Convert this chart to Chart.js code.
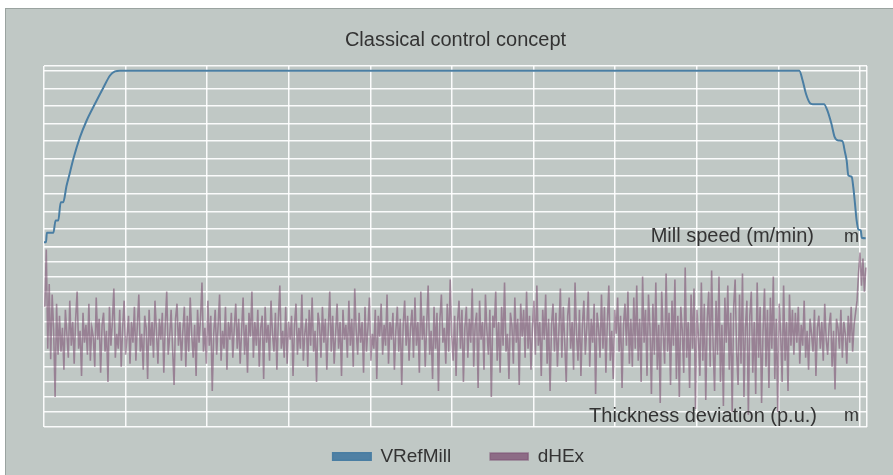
<!DOCTYPE html>
<html><head><meta charset="utf-8">
<script src="https://cdn.jsdelivr.net/npm/chart.js@4/dist/chart.umd.min.js"></script>
<style>
html,body{margin:0;padding:0;background:#fff;}
#wrap{position:relative;width:893px;height:475px;overflow:hidden;background:#fff;}
#panel{position:absolute;left:5px;top:8px;right:0;bottom:0;background:#c0c8c5;border-top:1px solid #9aa3a0;border-left:1px solid #9aa3a0;}
canvas{position:absolute;left:0;top:0;}
</style></head><body>
<div id="wrap"><div id="panel"></div><canvas id="c" width="893" height="475"></canvas></div>
<script>
// ---- data ----
const titleText = 'Classical control concept';
const seriesNames = ['VRefMill', 'dHEx'];
const speedLabel = 'Mill speed (m/min)';
const thickLabel = 'Thickness deviation (p.u.)';
const unitLabel = 'm';

// x axis grid ticks (time) and panel tick values
const timeTicks = [0, 10, 20, 30, 40, 50, 60, 70, 80, 90, 100, 100.86];
const speedTicks = [0, 10, 20, 30, 40, 50, 60, 70, 80, 90, 100, 102.7];
const thickTicks = [-60, -50, -40, -30, -20, -10, 0, 10, 20, 30, 40, 50, 60];

// VRefMill: reference mill speed
const speedTime = [0, 0.25, 0.35, 1.15, 1.42, 1.75, 2.05, 2.35, 2.77, 3.19,
  3.6, 4.41, 5.23, 6.25, 7.27, 8.09, 8.7, 9.3, 92.56, 92.97,
  93.38, 93.87, 94.2, 95.59, 96.0, 96.5, 96.9, 97.33, 97.85, 98.16,
  98.37, 98.57, 98.98, 99.18, 99.39, 99.59, 99.8, 100.1, 100.22, 100.7];
const speedValue = [2.4, 2.4, 7.8, 7.8, 14.8, 14.8, 25.2, 25.2, 34.7, 42.3,
  49.9, 62.2, 71.7, 81.2, 90.3, 97.3, 99.6, 100, 100, 94.5,
  86.9, 81.6, 81, 81, 77.4, 69.8, 62.2, 60.3, 59.9, 53.7,
  48.9, 40.4, 39.8, 33.8, 24.3, 14.8, 9.7, 9.1, 5, 4.7];

// dHEx: thickness deviation, sampled every dHExStep starting at dHExStart
const dHExStart = 0.1;
const dHExStep = 0.18;
const dHEx = [
  20, 58, -8, 35, -15, 28, 5, -40, 22, -12,
  14, -10, 6, -22, 18, 2, -14, 24, -6, 10, -18, 12, 30, -8, 4, -26, 16, -4, 8, -12,
  22, -16, 6, 0, -20, 26, -2, 12, -24, 8, 16, -10, 4, -30, 20, -6, 10, 32, -14, 2,
  -8, 18, -20, 6, 24, -12, 0, 14, -18, 10,
  -4, 20, -16, 8, 28, -10, 2, -22, 14, 6, -28, 18, -6, 10, -14, 24, 4, -18, 12, -2,
  16, -24, 8, 30, -12, 0, 18, -8, -32, 12, 22, -6, 10, -16, 4, 20, -20, 14, -10, 26,
  2, -14, 8, -26, 18, -4, 12, 36, -10, 6, -18, 24, -6, 14, -36, 2, 18, -12, 8, 28,
  -16, 4, -8, 20, -22, 10, -2, 16, -14, 6,
  22, -8, 12, -18, 4, 26, -12, 8, -24, 16, 0, 30, -14, 10, -6, 18, -20, 6, 14, -28,
  20, -4, 8, -16, 24, 2, -10, 16, -22, 12, 34, -8, 4, -14, 20, -18, 10, -2, 14, -26,
  8, 22, -12, 6, -8, 28, -16, 2, 12, -20, 18, -6, 26, -10, 4, -30, 16, 8, -14, 20,
  -4, 12, -22, 6, 30, -10, 14, -18, 2, 22, -8, 10, -26, 18, -2, 8, -14, 24, -6, 12,
  -20, 32, 4, -12, 16, -4, 10, -24, 20, -10, 6, 26, -16, 2, -8, 18, -28, 14, 0, 22,
  -12, 8, -6, 28, -18, 10, -2, 16, -22, 4, 20, -10, 12, -32, 8, 24, -6, 14, -16, 6,
  18, -14, 26, -6, 10, -24, 30, -2, 14, -20, 8, 34, -12, 4, -28, 20, -8, 16, -36, 12,
  28, -4, 6, -18, 22, -10, 38, 2, -16, 14, -26, 10, 24, -8, 18, -30, 6, 20, -14, 12,
  -4, 32, -20, 8, 16, -34, 24, -2, 10, -22, 28, 4, -12, 18, -40, 14, 6, 30, -16, 10,
  -24, 20, -6, 36, -10, 2, -28, 16, 8, -18, 26, -4, 12, -32, 22, 0, 18, -14, 30, -8,
  14, -22, 6, 24, -12, 34, -6, 10, -26, 18, -2, 28, -18, 12, -36, 8, 22, -10, 16, -20,
  4, 32, -14, 20, -4, -30, 14, 26, -8, 10, -22, 36, 2, -16, 18, -26, 8, 24, -12, 6,
  30, -20, 12, -4, 22, -38, 16, 6, -14, 28, -8, 20, -24, 10, 34, -16, 4, -28, 18, 2,
  26, -10, 14, -34, 8, 22, -6, 30, -18, 12,
  -20, 26, -8, 34, -16, 12, -30, 40, -4, 18, -26, 28, 6, -38, 22, -12, 36, -22, 8, -44,
  30, 2, -18, 42, -10, 16, -32, 24, -6, 38, -28, 14, -40, 20, 4, -24, 46, -14, 10, -34,
  28, -8, 32, -48, 18, 0, -26, 36, -16, 22, -42, 12, 30, -20, 44, -6, -36, 24, -12, 40,
  -30, 8, -46, 26, -4, 34, -22, 16, -50, 20, 38, -10, -32, 28, -18, 42, -40, 6, 24, -52,
  14, 30, -24, 10, -38, 36, -14, 20, -44, 4, 32, -20, 18, -34, 26, -8, 40, -28, 12, -50,
  22, 2, -30, 34, -16, 10, -36, 28, -6, 18,
  -12, 16, -4, 20, -18, 8, -6, 24, -14, 4, -22, 12, 2, -10, 18, -26, 6, 14, -8, 10,
  -16, 22, -2, -12, 8, 16, -20, 4, -35, 12, 6, -8, 18, -14, 10, 2, -18, 14, -4, 20,
  -10, 8, 16,
  24, 42, 56, 34, 52, 30, 46
];

// ---- build chart ----
const FONT = "'Liberation Sans', Arial, Helvetica, sans-serif";
Chart.defaults.font.family = FONT;
Chart.defaults.color = '#333';

const speedPoints = speedTime.map((t, i) => ({ x: t, y: speedValue[i] }));
const dHExPoints = dHEx.map((v, i) => ({ x: dHExStart + i * dHExStep, y: v }));

const gridStyle = { color: 'rgba(255,255,255,0.92)', lineWidth: 1.5, drawTicks: false };

function fixedTicks(values) {
  return function (scale) { scale.ticks = values.map(v => ({ value: v })); };
}

// move the legend row up into the lower margin (keeps its box bottom so nothing is clipped)
const legendLift = {
  id: 'legendLift',
  afterLayout(chart) {
    const lg = chart.legend;
    if (lg) { lg.top -= 19; lg.height += 19; lg.left += 3; lg.right += 3; }
  }
};

const panelLabels = {
  id: 'panelLabels',
  afterDatasetsDraw(chart) {
    const { ctx, chartArea } = chart;
    const ys = chart.scales.ySpeed, yt = chart.scales.yThick;
    ctx.save();
    ctx.fillStyle = '#333';
    ctx.textAlign = 'right';
    ctx.textBaseline = 'alphabetic';
    ctx.font = '20px ' + FONT;
    ctx.fillText(speedLabel, chartArea.right - 53, ys.bottom - 5);
    ctx.fillText(thickLabel, chartArea.right - 50, yt.bottom - 4.6);
    ctx.font = '18px ' + FONT;
    ctx.fillText(unitLabel, chartArea.right - 8, ys.bottom - 5);
    ctx.fillText(unitLabel, chartArea.right - 8, yt.bottom - 5.6);
    ctx.restore();
  }
};

new Chart(document.getElementById('c'), {
  type: 'line',
  data: {
    datasets: [
      {
        label: seriesNames[0],
        data: speedPoints,
        yAxisID: 'ySpeed',
        borderColor: '#4a7ea3',
        backgroundColor: '#4f80a4',
        borderWidth: 2,
        pointRadius: 0,
        cubicInterpolationMode: 'monotone',
        order: 0
      },
      {
        label: seriesNames[1],
        data: dHExPoints,
        yAxisID: 'yThick',
        borderColor: 'rgba(128,86,118,0.62)',
        backgroundColor: '#8d6c86',
        borderWidth: 1.6,
        pointRadius: 0,
        order: 1
      }
    ]
  },
  options: {
    responsive: false,
    animation: false,
    devicePixelRatio: 1,
    layout: { padding: { left: 44, right: 26, top: 0, bottom: 0 } },
    plugins: {
      title: {
        display: true,
        text: titleText,
        color: '#333',
        font: { size: 20, weight: 'normal', lineHeight: 1.2 },
        padding: { top: 28, bottom: 14 }
      },
      legend: {
        position: 'bottom',
        maxHeight: 48,
        labels: {
          boxWidth: 38,
          boxHeight: 7,
          padding: 39,
          color: '#333',
          font: { size: 19 }
        }
      },
      tooltip: { enabled: false }
    },
    scales: {
      x: {
        type: 'linear',
        min: 0,
        max: 100.86,
        afterBuildTicks: fixedTicks(timeTicks),
        ticks: { display: false },
        grid: gridStyle,
        border: { display: false }
      },
      yThick: {
        type: 'linear',
        position: 'left',
        stack: 'panels',
        stackWeight: 1,
        min: -60,
        max: 60,
        afterBuildTicks: fixedTicks(thickTicks),
        ticks: { display: false },
        grid: gridStyle,
        border: { display: false }
      },
      ySpeed: {
        type: 'linear',
        position: 'left',
        stack: 'panels',
        stackWeight: 1,
        min: 0,
        max: 102.7,
        afterBuildTicks: fixedTicks(speedTicks),
        ticks: { display: false },
        grid: gridStyle,
        border: { display: false }
      }
    }
  },
  plugins: [legendLift, panelLabels]
});
</script>
</body></html>
